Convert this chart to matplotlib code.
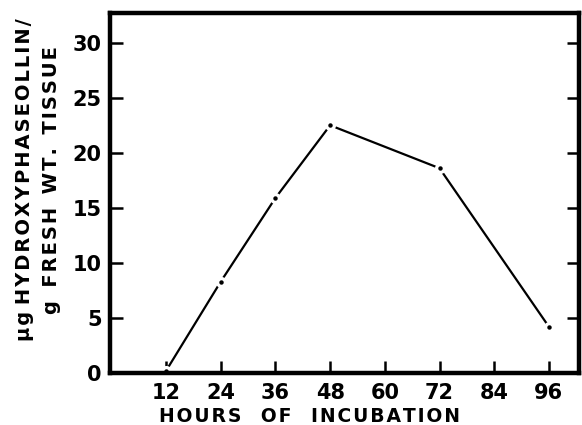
import matplotlib
matplotlib.use("Agg")
import matplotlib.pyplot as plt

# hours of incubation vs hydroxyphaseollin content
hours = [12, 24, 36, 48, 72, 96]
amount = [0.2, 8.3, 15.9, 22.5, 18.6, 4.2]

x_ticks = [12, 24, 36, 48, 60, 72, 84, 96]
y_ticks = [0, 5, 10, 15, 20, 25, 30]

plt.rcParams['font.family'] = ['DejaVu Sans']
plt.rcParams['font.weight'] = 'bold'


def spaced(text, words=3, gap="\u200a"):
    # wide letter spacing like the old stencil lettering
    return (" " * words).join(gap.join(w) for w in text.split(" "))


fig = plt.figure(figsize=(5.82, 4.25), dpi=100)
ax = fig.add_axes([110 / 582, 1 - 373 / 425, (579 - 110) / 582, (373 - 13) / 425])

# line, then a white gap round each point, then the small dot itself
ax.plot(hours, amount, color='black', lw=1.6, solid_capstyle='butt')
ax.plot(hours, amount, ls='none', marker='o', ms=8, mfc='white', mec='none')
ax.plot(hours, amount, ls='none', marker='o', ms=3.2, mfc='black', mec='none')

ax.set_xlim(-0.3, 102.6)
ax.set_ylim(0, 32.7)
ax.set_xticks(x_ticks)
ax.set_yticks(y_ticks)

for s in ax.spines.values():
    s.set_linewidth(3.2)

ax.tick_params(axis='both', direction='in', length=9, width=1.8,
               labelsize=15)
ax.tick_params(axis='x', pad=7)
ax.tick_params(axis='y', pad=6, right=True, labelright=False)
for lab in ax.get_xticklabels() + ax.get_yticklabels():
    lab.set_fontweight('bold')

ax.set_xlabel(spaced("HOURS OF INCUBATION"), fontsize=13.5, fontweight='bold')
ax.xaxis.label.set_va('center')
ax.xaxis.set_label_coords(0.426, -0.122)

ax.set_ylabel(spaced("µg HYDROXYPHASEOLLIN/", words=1) + "\n"
              + spaced("g FRESH WT. TISSUE", words=2),
              fontsize=14, fontweight='bold', linespacing=1.5)
ax.yaxis.label.set_va('center')
ax.yaxis.set_label_coords(-0.1535, 0.536)

fig.savefig("out.png", dpi=100)
